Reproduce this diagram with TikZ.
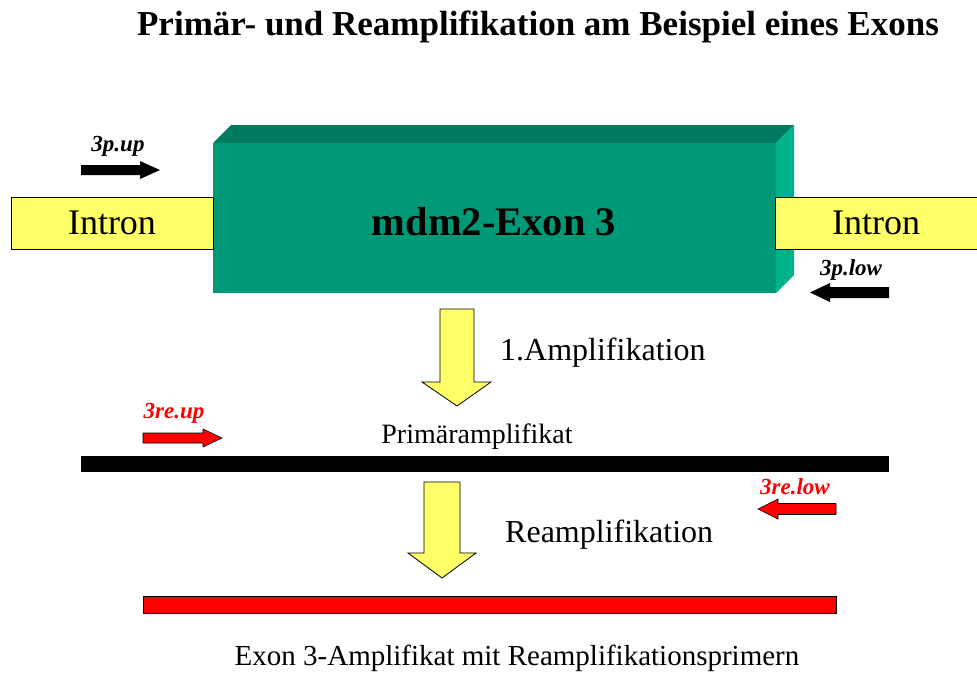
\documentclass[tikz,border=0pt]{standalone}
\usepackage{fontspec}
\setmainfont{Liberation Serif}
\begin{document}
\begin{tikzpicture}[x=1pt,y=-1pt,
  intronbox/.style={draw=black,line width=1pt,fill={rgb,255:red,255;green,255;blue,102},minimum width=202pt,minimum height=52pt,inner sep=0pt,font=\fontsize{36}{38}\selectfont},
  lbl/.style={inner sep=0pt,font=\fontsize{23}{25}\selectfont\bfseries\itshape},
  bigarrow/.style={draw=black,line width=0.8pt,fill={rgb,255:red,255;green,255;blue,102}},
  blackarrow/.style={fill=black},
  redarrow/.style={draw=black,line width=0.6pt,fill=red}]
\definecolor{exfront}{RGB}{0,153,119}
\definecolor{extop}{RGB}{0,122,94}
\definecolor{exside}{RGB}{0,178,138}
\useasboundingbox (0,0) rectangle (977,672);
% title
\node[inner sep=0pt,font=\fontsize{35}{37}\selectfont\bfseries] (title) at (538,27) {Primär- und Reamplifikation am Beispiel eines Exons};
% exon block
\fill[extop] (213,143) -- (231,125) -- (794,125) -- (776,143) -- cycle;
\fill[exside] (776,143) -- (794,125) -- (794,275) -- (776,293) -- cycle;
\node[fill=exfront,minimum width=563pt,minimum height=150pt,inner sep=0pt,anchor=north west] (exon) at (213,143) {};
\node[inner sep=0pt,font=\fontsize{40.5}{42}\selectfont\bfseries] (exonlabel) at (494,222) {mdm2-Exon 3};
% introns
\node[intronbox] (intronL) at (112,223) {Intron};
\node[intronbox] (intronR) at (876,223) {Intron};
% primers 3p
\node[lbl] (upl) at (118,146) {3p.up};
\fill[blackarrow] (81,165) -- (140,165) -- (140,161) -- (160,170) -- (140,179) -- (140,175) -- (81,175) -- cycle;
\node[lbl] (lowl) at (851,270) {3p.low};
\fill[blackarrow] (889,287) -- (830,287) -- (830,283) -- (810,292.5) -- (830,302) -- (830,298) -- (889,298) -- cycle;
% first amplification arrow
\draw[bigarrow] (440,309) -- (474,309) -- (474,382) -- (491,382) -- (457,406) -- (422,382) -- (440,382) -- cycle;
\node[inner sep=0pt,anchor=west,font=\fontsize{32}{34}\selectfont] (amp1) at (500,353) {1.Amplifikation};
% primary amplificate
\node[inner sep=0pt,font=\fontsize{28}{30}\selectfont] (prim) at (477,437) {Primäramplifikat};
\node[fill=black,minimum width=808pt,minimum height=16pt,inner sep=0pt,anchor=north west] (primbar) at (81,456) {};
% re primers
\node[lbl,text=red] (reupl) at (174,413) {3re.up};
\draw[redarrow] (143,433) -- (203,433) -- (203,429) -- (222,438) -- (203,447) -- (203,443) -- (143,443) -- cycle;
\node[lbl,text=red] (relowl) at (795,487) {3re.low};
\draw[redarrow] (836,503.5) -- (778,503.5) -- (778,499) -- (758,509) -- (778,519) -- (778,514.5) -- (836,514.5) -- cycle;
% second amplification arrow
\draw[bigarrow] (424,482) -- (460,482) -- (460,553) -- (476,553) -- (442,578) -- (408,553) -- (424,553) -- cycle;
\node[inner sep=0pt,anchor=west,font=\fontsize{32}{34}\selectfont] (amp2) at (505,535) {Reamplifikation};
% red bar
\node[draw=black,line width=0.6pt,fill=red,minimum width=693pt,minimum height=17pt,inner sep=0pt,anchor=north west] (rebar) at (143,596) {};
\node[inner sep=0pt,font=\fontsize{29}{31}\selectfont] (final) at (517,658) {Exon 3-Amplifikat mit Reamplifikationsprimern};
\end{tikzpicture}
\end{document}
